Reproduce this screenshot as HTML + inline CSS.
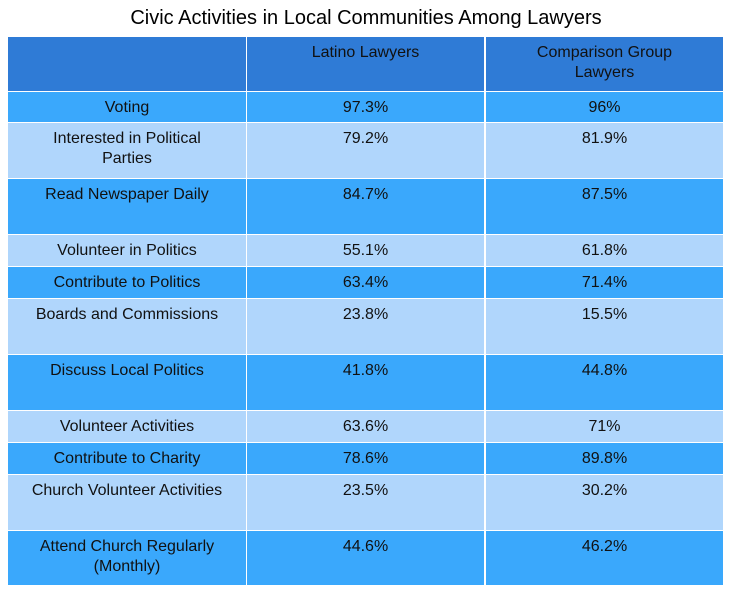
<!DOCTYPE html>
<html><head><style>
body{margin:0;width:732px;height:594px;background:#fff;position:relative;font-family:"Liberation Sans",sans-serif;overflow:hidden}
.t{position:absolute;top:7px;left:0;width:732px;text-align:center;font-size:20px;color:#000}
.c{position:absolute;box-sizing:border-box;padding-top:6px;text-align:center;font-size:16px;line-height:20px;color:#111}
.h{background:#2f7bd6}.d{background:#3aa8fc}.l{background:#b0d6fc}
</style></head><body>
<div class="t">Civic Activities in Local Communities Among Lawyers</div>
<div id="tb"></div>
<script>
var rows=[[37,54,"h","","Latino Lawyers","Comparison Group<br>Lawyers"],
[92,30,"d","Voting","97.3%","96%"],
[123,55,"l","Interested in Political<br>Parties","79.2%","81.9%"],
[179,55,"d","Read Newspaper Daily","84.7%","87.5%"],
[235,31,"l","Volunteer in Politics","55.1%","61.8%"],
[267,31,"d","Contribute to Politics","63.4%","71.4%"],
[299,55,"l","Boards and Commissions","23.8%","15.5%"],
[355,55,"d","Discuss Local Politics","41.8%","44.8%"],
[411,31,"l","Volunteer Activities","63.6%","71%"],
[443,31,"d","Contribute to Charity","78.6%","89.8%"],
[475,55,"l","Church Volunteer Activities","23.5%","30.2%"],
[531,54,"d","Attend Church Regularly<br>(Monthly)","44.6%","46.2%"]];
var cols=[[8,238],[247,237],[486,237]],h="";
rows.forEach(function(r){for(var i=0;i<3;i++){h+='<div class="c '+r[2]+'" style="left:'+cols[i][0]+'px;top:'+r[0]+'px;width:'+cols[i][1]+'px;height:'+r[1]+'px">'+r[3+i]+'</div>';}});
document.getElementById('tb').innerHTML=h;
</script>
</body></html>
